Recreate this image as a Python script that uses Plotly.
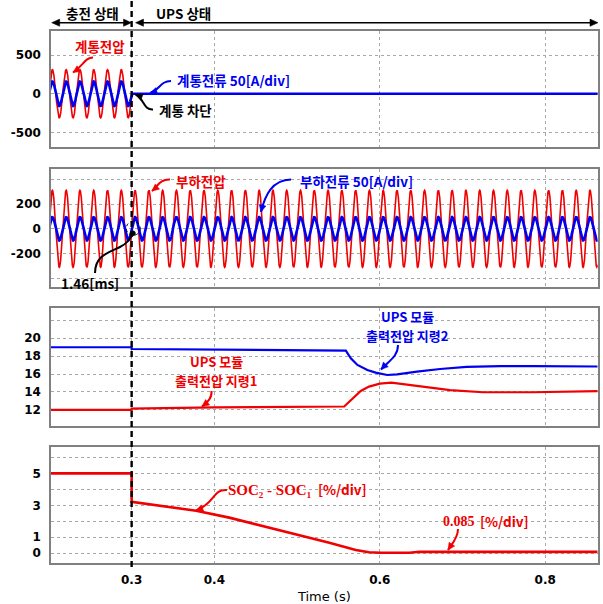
import numpy as np
import plotly.graph_objects as go
from plotly.subplots import make_subplots

W, H = 603, 604

# ---------------- data ----------------
t_range = [0.2025, 0.8635]          # visible time window [s]
trip_time = 0.3                     # grid disconnection instant [s]
line_freq = 60.0                    # Hz
grid_voltage_peak = 311             # V
grid_current_peak = 160             # drawn at 50 A/div
load_voltage_peak = 311             # V
load_current_peak = 95              # drawn at 50 A/div

cmd2_t = [0.2025, 0.3, 0.3, 0.40, 0.48, 0.559, 0.565, 0.573, 0.585, 0.595, 0.609,
          0.621, 0.645, 0.673, 0.705, 0.746, 0.786, 0.8635]
cmd2_v = [19.0, 19.0, 18.8, 18.73, 18.68, 18.62, 17.77, 17.02, 16.46, 16.16, 15.9,
          15.97, 16.27, 16.57, 16.8, 16.9, 16.9, 16.85]

cmd1_t = [0.2025, 0.3, 0.3, 0.336, 0.40, 0.557, 0.563, 0.569, 0.577, 0.587, 0.600,
          0.614, 0.636, 0.665, 0.685, 0.725, 0.785, 0.8635]
cmd1_v = [12.0, 12.0, 12.15, 12.22, 12.28, 12.38, 12.92, 13.48, 14.12, 14.6, 14.93,
          15.04, 14.79, 14.42, 14.2, 13.97, 13.97, 14.1]

soc_t = [0.2025, 0.3, 0.3, 0.338, 0.378, 0.418, 0.459, 0.499, 0.539, 0.571, 0.587,
         0.600, 0.636, 0.648, 0.8635]
soc_v = [5.0, 5.0, 3.22, 2.96, 2.66, 2.23, 1.70, 1.19, 0.66, 0.21, 0.06,
         0.03, 0.03, 0.09, 0.09]

x_tickvals = [0.3, 0.4, 0.6, 0.8]
x_ticktext = ["0.3", "0.4", "0.6", "0.8"]
y1_tickvals = [-500, 0, 500]
y1_ticktext = ["-500", "0", "500"]
y1_extra_grid = []
y2_tickvals = [-200, 0, 200]
y2_ticktext = ["-200", "0", "200"]
y2_extra_grid = [-400, 400]
y3_tickvals = [12, 14, 16, 18, 20]
y3_ticktext = ["12", "14", "16", "18", "20"]
y3_extra_grid = [22]
y4_tickvals = [0, 1, 3, 5]
y4_ticktext = ["0", "1", "3", "5"]
y4_extra_grid = [2, 4, 6]

# ---------------- waveforms ----------------
t = np.arange(0.2, t_range[1] + 1e-4, 1e-4)
phase = np.sin(2 * np.pi * line_freq * (t - 0.2))
grid_v = np.where(t <= trip_time, grid_voltage_peak * phase, 0.0)
grid_i = np.where(t <= trip_time, grid_current_peak * phase, 0.0)
load_v = load_voltage_peak * phase
load_i = load_current_peak * phase

RED = "#f00000"
BLUE = "#0000f0"
KR = "Noto Sans CJK KR"
NUM = "DejaVu Sans"

fig = make_subplots(rows=4, cols=1, shared_xaxes=False)

fig.add_trace(go.Scatter(x=t, y=grid_v, mode="lines", line=dict(color=RED, width=1.6)), 1, 1)
fig.add_trace(go.Scatter(x=t, y=grid_i, mode="lines", line=dict(color=BLUE, width=2.6)), 1, 1)
fig.add_trace(go.Scatter(x=t, y=load_v, mode="lines", line=dict(color=RED, width=1.6)), 2, 1)
fig.add_trace(go.Scatter(x=t, y=load_i, mode="lines", line=dict(color=BLUE, width=2.6)), 2, 1)
fig.add_trace(go.Scatter(x=cmd2_t, y=cmd2_v, mode="lines", line=dict(color=BLUE, width=2.2)), 3, 1)
fig.add_trace(go.Scatter(x=cmd1_t, y=cmd1_v, mode="lines", line=dict(color=RED, width=2.2)), 3, 1)
fig.add_trace(go.Scatter(x=soc_t, y=soc_v, mode="lines", line=dict(color=RED, width=2.6)), 4, 1)

# ---------------- layout (pixel positions -> paper) ----------------
def ydom(top_px, bot_px):
    return [1 - bot_px / H, 1 - top_px / H]

x_dom = [51 / W, 597.7 / W]
y_doms = [ydom(31, 147.3), ydom(169.3, 286.7), ydom(308.3, 426), ydom(447.3, 562.7)]
y_ranges = [[-692, 811], [-468, 481], [10.2, 23.35], [-0.59, 6.63]]
y_ticks = [(y1_tickvals, y1_ticktext, y1_extra_grid), (y2_tickvals, y2_ticktext, y2_extra_grid),
           (y3_tickvals, y3_ticktext, y3_extra_grid), (y4_tickvals, y4_ticktext, y4_extra_grid)]

GRID = "#a8a8a8"
frame = dict(showline=True, mirror=True, linecolor="#808080", linewidth=1.5,
             showgrid=True, gridcolor=GRID, griddash="dot", gridwidth=1,
             zeroline=False, ticks="", automargin=False, fixedrange=True)
tickfont = dict(family=NUM, size=12, color="black", weight="bold")

for i in range(4):
    xs = "xaxis" if i == 0 else f"xaxis{i+1}"
    ys = "yaxis" if i == 0 else f"yaxis{i+1}"
    fig.layout[xs].update(domain=x_dom, range=t_range, tickvals=x_tickvals,
                          ticktext=x_ticktext, showticklabels=(i == 3),
                          tickfont=tickfont, ticklabelstandoff=5, **frame)
    tv, tt, extra = y_ticks[i]
    minor = dict(tickvals=extra, showgrid=True, gridcolor=GRID, griddash="dot",
                 gridwidth=1, ticks="") if extra else dict(showgrid=False)
    fig.layout[ys].update(domain=y_doms[i], range=y_ranges[i], tickvals=tv,
                          ticktext=tt, tickfont=tickfont, minor=minor,
                          ticklabelstandoff=6, **frame)

fig.layout.xaxis4.title = dict(text="Time (s)", standoff=6,
                               font=dict(family=NUM, size=13, color="black"))

# ---------------- annotation helpers (pixel -> paper) ----------------
def P(x, y):
    return x / W, 1 - y / H

shapes = []
annotations = []

def head(tip, frm, color, length=7.0, half=3.4):
    dx, dy = tip[0] - frm[0], tip[1] - frm[1]
    n = (dx * dx + dy * dy) ** 0.5
    ux, uy = dx / n, dy / n
    bx, by = tip[0] - ux * length, tip[1] - uy * length
    p1 = (bx - uy * half, by + ux * half)
    p2 = (bx + uy * half, by - ux * half)
    pts = [P(*tip), P(*p1), P(*p2)]
    path = "M {:.5f},{:.5f} L {:.5f},{:.5f} L {:.5f},{:.5f} Z".format(
        pts[0][0], pts[0][1], pts[1][0], pts[1][1], pts[2][0], pts[2][1])
    shapes.append(dict(type="path", path=path, xref="paper", yref="paper",
                       fillcolor=color, line=dict(color=color, width=0.5)))

def curve(segs, color, width=2.0, arrow=True):
    p0 = P(*segs[0])
    path = "M {:.5f},{:.5f}".format(*p0)
    rest = segs[1:]
    for k in range(0, len(rest), 3):
        a, b, c = (P(*q) for q in rest[k:k + 3])
        path += " C {:.5f},{:.5f} {:.5f},{:.5f} {:.5f},{:.5f}".format(*a, *b, *c)
    shapes.append(dict(type="path", path=path, xref="paper", yref="paper",
                       line=dict(color=color, width=width)))
    if arrow:
        head(segs[-1], segs[-2], color)

def text(s, x, y, color, size=13.5, family=KR, bold=True, anchor="center"):
    px, py = P(x, y)
    annotations.append(dict(text=s, x=px, y=py, xref="paper", yref="paper",
                            xanchor=anchor, yanchor="middle", showarrow=False,
                            borderpad=0,
                            font=dict(family=family, size=size, color=color,
                                      weight="bold" if bold else "normal")))

def dbl_arrow(x0, x1, y):
    shapes.append(dict(type="line", xref="paper", yref="paper",
                       x0=P(x0 + 4, y)[0], x1=P(x1 - 4, y)[0], y0=P(x0, y)[1], y1=P(x0, y)[1],
                       line=dict(color="black", width=1.6)))
    head((x0, y), (x0 + 10, y), "black", length=8, half=3.6)
    head((x1, y), (x1 - 10, y), "black", length=8, half=3.6)

# state arrows at the top
dbl_arrow(51.7, 131.5, 22.7)
dbl_arrow(135.5, 598, 22.7)
text("충전 상태", 92, 13, "black", size=13.5)
text("UPS 상태", 183, 13, "black", size=13.5)

# vertical dashed trip line
shapes.append(dict(type="line", xref="x", yref="paper", x0=trip_time, x1=trip_time,
                   y0=1 - 567 / H, y1=1, line=dict(color="black", width=2.4, dash="6px,4px")))

# panel 1
text("계통전압", 100, 46, RED)
curve([(93, 57.5), (85, 57.5), (83, 66), (73, 72.5)], RED)
text("계통전류 50[A/div]", 233.5, 80.5, BLUE)
curve([(171, 81), (160, 81), (160, 90), (150, 93)], BLUE)
text("계통 차단", 185.5, 110, "black")
curve([(153, 109.5), (143, 110), (144, 98), (135.5, 94.5)], "black")

# panel 2
text("부하전압", 201, 181, RED)
curve([(170, 179.5), (160, 179), (158, 186), (152, 191)], RED)
text("부하전류 50[A/div]", 356, 181, BLUE)
curve([(291, 179.5), (272, 180), (265, 195), (261, 212)], BLUE)
text("1.46[ms]", 89.5, 282.5, "black")
curve([(95, 273), (95, 255), (110, 252), (120, 247), (128, 243), (131, 238), (133, 233)],
      "black", arrow=False)
cx, cy = P(133.3, 228.3)
rx, ry = 7 / W, 7 / H
shapes.append(dict(type="circle", xref="paper", yref="paper", x0=cx - rx, x1=cx + rx,
                   y0=cy - ry, y1=cy + ry, line=dict(color="black", width=1, dash="dot")))
dx_, dy_ = P(132.8, 233.3)
shapes.append(dict(type="circle", xref="paper", yref="paper", x0=dx_ - 2.6 / W, x1=dx_ + 2.6 / W,
                   y0=dy_ - 2.6 / H, y1=dy_ + 2.6 / H, fillcolor="black",
                   line=dict(color="black", width=0.5)))

# panel 3 (two-line labels, kept as separate lines)
text("UPS 모듈", 407, 316, BLUE, size=13)
text("출력전압 지령2", 407, 335, BLUE, size=13)
curve([(398, 345), (398, 356), (390, 360), (381, 369.5)], BLUE)
text("UPS 모듈", 216, 361.5, RED, size=13)
text("출력전압 지령1", 216, 380.5, RED, size=13)
curve([(211.5, 391), (212, 398), (208, 402), (202, 406.5)], RED)

# panel 4
text("SOC₂ - SOC₁", 226.5, 490, RED, size=15,
     family="Liberation Serif, DejaVu Serif", bold=True, anchor="left")
text("[%/div]", 316.5, 489.5, RED, size=13.5, anchor="left")
curve([(227, 490), (212, 489), (216, 503), (196, 510.5)], RED)
text("0.085", 442, 521.5, RED, size=14, family="Liberation Serif", bold=True, anchor="left")
text("[%/div]", 479, 521, RED, size=13.5, anchor="left")
curve([(458, 529), (458, 538), (452, 544), (448, 550)], RED)

fig.update_layout(width=W, height=H, margin=dict(l=0, r=0, t=0, b=0),
                  paper_bgcolor="white", plot_bgcolor="white", showlegend=False,
                  hovermode=False, shapes=shapes, annotations=annotations)

# remove the browser's default 8px page margin so the 603x604 figure fills the window
fig.write_html("out.html", config={"displayModeBar": False},
               post_script="document.body.style.margin='0';document.body.style.overflow='hidden';")
